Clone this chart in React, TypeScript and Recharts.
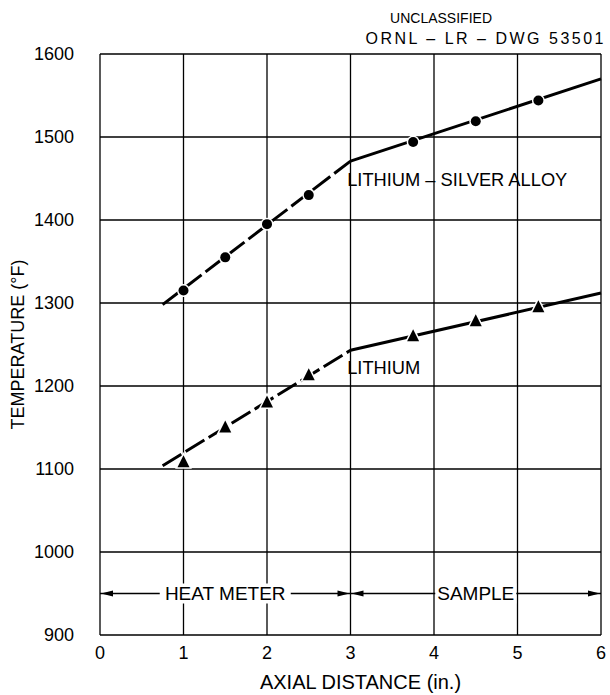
import React from 'react';
import { ComposedChart, Line, Scatter, XAxis, YAxis, CartesianGrid } from 'recharts';

const xTicks = [0, 1, 2, 3, 4, 5, 6];
const yTicks = [900, 1000, 1100, 1200, 1300, 1400, 1500, 1600];

const silverFitLeft = [{ x: 0.75, y: 1298 }, { x: 3, y: 1471 }];
const silverFitRight = [{ x: 3, y: 1471 }, { x: 6, y: 1570 }];
const silverPoints = [
  { x: 1, y: 1315 }, { x: 1.5, y: 1355 }, { x: 2, y: 1395 }, { x: 2.5, y: 1430 },
  { x: 3.75, y: 1494 }, { x: 4.5, y: 1519 }, { x: 5.25, y: 1544 },
];

const lithiumFitLeft = [{ x: 0.75, y: 1104 }, { x: 3, y: 1243 }];
const lithiumFitRight = [{ x: 3, y: 1243 }, { x: 6, y: 1312 }];
const lithiumPoints = [
  { x: 1, y: 1108 }, { x: 1.5, y: 1150 }, { x: 2, y: 1180 }, { x: 2.5, y: 1213 },
  { x: 3.75, y: 1260 }, { x: 4.5, y: 1278 }, { x: 5.25, y: 1295 },
];

const curveLabels = [
  { x: 2.96, y: 1449, label: 'LITHIUM – SILVER ALLOY' },
  { x: 2.96, y: 1222, label: 'LITHIUM' },
];

const spanHeat = [{ x: 0, y: 950 }, { x: 3, y: 950 }];
const spanSample = [{ x: 3, y: 950 }, { x: 6, y: 950 }];
const arrowHeads = [
  { x: 0, y: 950, dir: -1 }, { x: 3, y: 950, dir: 1 },
  { x: 3, y: 950, dir: -1 }, { x: 6, y: 950, dir: 1 },
];
const spanLabels = [
  { x: 1.5, y: 950, label: 'HEAT METER' },
  { x: 4.5, y: 950, label: 'SAMPLE' },
];

const FONT = '"Liberation Sans", Arial, sans-serif';

const Dot = (p: any) => (
  <circle cx={p.cx} cy={p.cy} r={5} fill="#000" stroke="#fff" strokeWidth={3} paintOrder="stroke" />
);
const Tri = (p: any) => {
  const s = 6;
  return (
    <polygon
      points={`${p.cx},${p.cy - s - 1} ${p.cx - s},${p.cy + s - 1} ${p.cx + s},${p.cy + s - 1}`}
      fill="#000" stroke="#fff" strokeWidth={3} paintOrder="stroke"
    />
  );
};
const CurveLabel = (p: any) => (
  <text x={p.cx} y={p.cy} dy="0.36em" textAnchor="start" fontSize={18.3} fontFamily={FONT} fill="#000">
    {p.payload.label}
  </text>
);
const SpanLabel = (p: any) => {
  const w = p.payload.label.length * 12.5 + 6;
  return (
    <g>
      <rect x={p.cx - w / 2} y={p.cy - 10} width={w} height={20} fill="#fff" />
      <text x={p.cx} y={p.cy} dy="0.36em" textAnchor="middle" fontSize={19} fontFamily={FONT} fill="#000">
        {p.payload.label}
      </text>
    </g>
  );
};
const Arrow = (p: any) => {
  const d = p.payload.dir;
  const tip = p.cx + (d > 0 ? -1 : 1);
  const base = tip - d * 12;
  return <polygon points={`${tip},${p.cy} ${base},${p.cy - 3} ${base},${p.cy + 3}`} fill="#000" />;
};

const YLabel = (props: any) => {
  const vb = props.viewBox || {};
  const cx = 18;
  const cy = vb.y + vb.height / 2;
  return (
    <text x={cx} y={cy} dy="0.36em" transform={`rotate(-90 ${cx} ${cy})`} textAnchor="middle" fontSize={18} fontFamily={FONT} fill="#000">
      TEMPERATURE (°F)
    </text>
  );
};

export default function App() {
  return (
    <div style={{ position: 'absolute', left: 0, top: 0, width: 610, height: 695, background: '#fff' }}>
      <div style={{ position: 'absolute', left: 0, width: 604, top: 8, textAlign: 'right', fontFamily: FONT, color: '#000' }}>
        <div style={{ paddingRight: 112, fontSize: 14, lineHeight: '20px' }}>UNCLASSIFIED</div>
        <div style={{ fontSize: 16, lineHeight: '22px', letterSpacing: 2.5, marginRight: -2, whiteSpace: 'nowrap' }}>ORNL – LR – DWG 53501</div>
      </div>
      <ComposedChart
        width={610}
        height={695}
        margin={{ top: 54, right: 9, bottom: 0, left: 0 }}
        style={{ fontFamily: FONT }}
      >
        <CartesianGrid stroke="#000" strokeWidth={1.3} />
        <XAxis
          type="number"
          dataKey="x"
          domain={[0, 6]}
          ticks={xTicks}
          height={60}
          axisLine={false}
          tickLine={false}
          tickSize={0}
          tickMargin={11}
          tick={{ fill: '#000', fontSize: 18, fontFamily: FONT }}
          label={{ value: 'AXIAL DISTANCE (in.)', position: 'insideBottom', offset: 6, dx: 10, fill: '#000', fontSize: 20, fontFamily: FONT }}
        />
        <YAxis
          type="number"
          dataKey="y"
          domain={[900, 1600]}
          ticks={yTicks}
          width={100}
          axisLine={false}
          tickLine={false}
          tickSize={0}
          tickMargin={26}
          tick={{ fill: '#000', fontSize: 18, fontFamily: FONT }}
          label={<YLabel />}
        />
        <Line data={silverFitLeft} dataKey="y" stroke="#000" strokeWidth={3} strokeDasharray="22 5" dot={false} isAnimationActive={false} />
        <Line data={silverFitRight} dataKey="y" stroke="#000" strokeWidth={3} dot={false} isAnimationActive={false} />
        <Line data={lithiumFitLeft} dataKey="y" stroke="#000" strokeWidth={3} strokeDasharray="22 5" dot={false} isAnimationActive={false} />
        <Line data={lithiumFitRight} dataKey="y" stroke="#000" strokeWidth={3} dot={false} isAnimationActive={false} />
        <Line data={spanHeat} dataKey="y" stroke="#000" strokeWidth={1.5} dot={false} isAnimationActive={false} />
        <Line data={spanSample} dataKey="y" stroke="#000" strokeWidth={1.5} dot={false} isAnimationActive={false} />
        <Scatter data={silverPoints} dataKey="y" shape={Dot} isAnimationActive={false} />
        <Scatter data={lithiumPoints} dataKey="y" shape={Tri} isAnimationActive={false} />
        <Scatter data={arrowHeads} dataKey="y" shape={Arrow} isAnimationActive={false} />
        <Scatter data={spanLabels} dataKey="y" shape={SpanLabel} isAnimationActive={false} />
        <Scatter data={curveLabels} dataKey="y" shape={CurveLabel} isAnimationActive={false} />
      </ComposedChart>
    </div>
  );
}
